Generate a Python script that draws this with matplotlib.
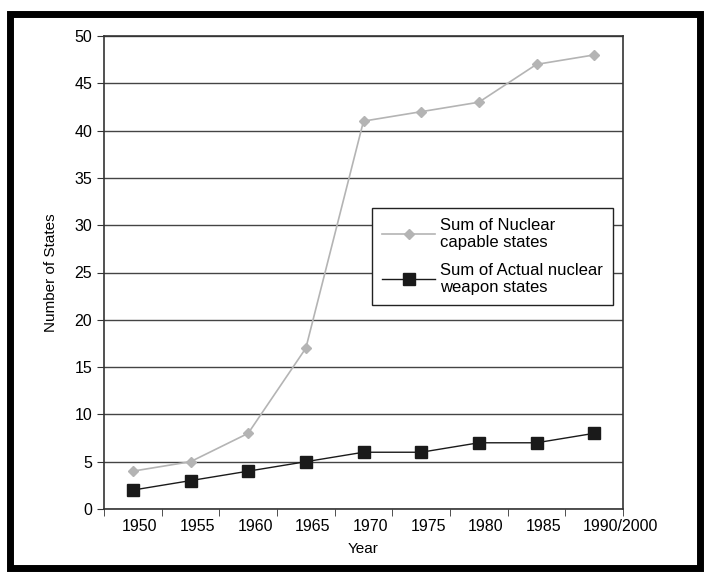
import matplotlib.pyplot as plt
from matplotlib.patches import Rectangle
from matplotlib.transforms import ScaledTranslation

years = ['1950', '1955', '1960', '1965', '1970', '1975', '1980', '1985', '1990/2000']
capable = [4, 5, 8, 17, 41, 42, 43, 47, 48]
actual = [2, 3, 4, 5, 6, 6, 7, 7, 8]

plt.rcParams['font.family'] = ['Liberation Sans', 'DejaVu Sans']

fig = plt.figure(figsize=(7.04, 5.72), dpi=100)
ax = fig.add_axes([104 / 704, 1 - 509 / 572, (623 - 104) / 704, (509 - 36) / 572])

x = list(range(len(years)))
ax.plot(x, capable, color='#b4b4b4', marker='D', markersize=5, lw=1.2,
        label='Sum of Nuclear\ncapable states', zorder=3)
ax.plot(x, actual, color='#1a1a1a', marker='s', markersize=8, lw=1.0,
        label='Sum of Actual nuclear\nweapon states', zorder=4)

ax.set_xlim(-0.5, len(years) - 0.5)
ax.set_ylim(0, 50)
ax.set_yticks(range(0, 51, 5))
ax.set_xticks(x)
ax.set_xticklabels(years)
ax.set_xticks([i - 0.5 for i in range(len(years) + 1)], minor=True)
ax.tick_params(axis='x', which='major', length=0, pad=7, labelsize=11.5)
ax.tick_params(axis='x', which='minor', length=5, direction='out', color='#333333')
ax.tick_params(axis='y', length=5, direction='out', labelsize=11.5, color='#333333')
ax.yaxis.grid(True, color='#444444', lw=1.0)
ax.set_axisbelow(True)
for s in ['top', 'right', 'left', 'bottom']:
    ax.spines[s].set_color('#333333')
    ax.spines[s].set_linewidth(1.2)

# labels sit a little to the right of the category centres
labels = ax.get_xticklabels()
for i, lab in enumerate(labels):
    dx = 26 if i == len(labels) - 1 else 7
    lab.set_transform(lab.get_transform() + ScaledTranslation(dx / 100, 0, fig.dpi_scale_trans))

ax.set_xlabel('Year', fontsize=11, labelpad=6)
ax.set_ylabel('Number of States', fontsize=11, labelpad=12)

leg = ax.legend(loc='upper left', bbox_to_anchor=((372 - 104) / 519, 1 - (208 - 36) / 473),
                borderaxespad=0, frameon=True, fancybox=False, fontsize=12,
                handlelength=3.2, borderpad=0.6, labelspacing=0.75, handletextpad=0.3)
leg.get_frame().set_edgecolor('#222222')
leg.get_frame().set_linewidth(1.0)
leg.get_frame().set_alpha(1)

fig.patches.append(Rectangle((9.5 / 704, 1 - 568 / 572), (700 - 9.5) / 704, (568 - 14) / 572,
                             transform=fig.transFigure, fill=False, edgecolor='black', lw=5))

fig.savefig('out.png', dpi=100)
